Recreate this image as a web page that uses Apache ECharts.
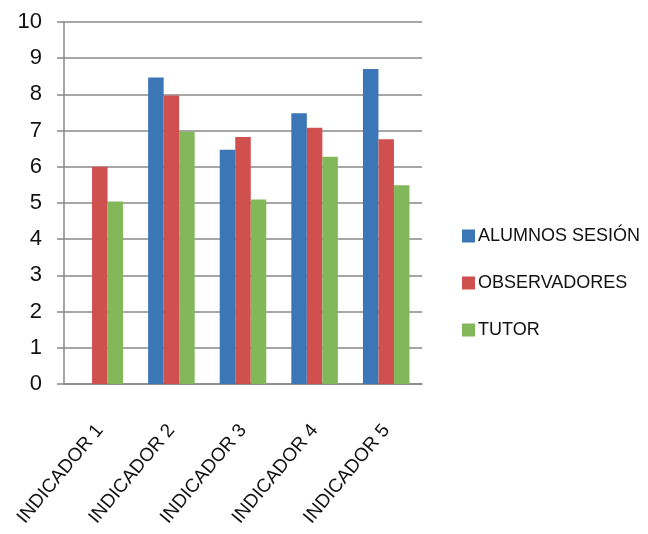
<!DOCTYPE html>
<html>
<head>
<meta charset="utf-8">
<script src="https://cdn.jsdelivr.net/npm/echarts@6/dist/echarts.min.js"></script>
<style>html,body{margin:0;padding:0;background:#fff}#c{width:648px;height:534px}</style>
</head>
<body>
<div id="c"></div>
<script>
const categories = ['INDICADOR 1', 'INDICADOR 2', 'INDICADOR 3', 'INDICADOR 4', 'INDICADOR 5'];
const alumnos = [0, 8.47, 6.47, 7.48, 8.7];
const observadores = [6.0, 7.97, 6.82, 7.08, 6.76];
const tutor = [5.04, 6.97, 5.1, 6.28, 5.49];
const seriesNames = ['ALUMNOS SESIÓN', 'OBSERVADORES', 'TUTOR'];

const chart = echarts.init(document.getElementById('c'));
const font = 'Liberation Sans, Arial, sans-serif';
chart.setOption({
  animation: false,
  color: ['#3b76b6', '#cf504e', '#82b75a'],
  grid: { left: 64, right: 226, top: 22, bottom: 150, containLabel: false },
  legend: {
    orient: 'vertical', left: 457, top: 222,
    itemWidth: 13, itemHeight: 13, itemGap: 29,
    icon: 'rect',
    textStyle: { fontFamily: font, fontSize: 18, color: '#111', lineHeight: 18, padding: [0,0,0,-2] },
    data: seriesNames
  },
  xAxis: {
    type: 'category', data: categories,
    axisLine: { lineStyle: { color: '#888', width: 1.5 } },
    axisTick: { length: 7, lineStyle: { color: '#888', width: 1.5 } },
    axisLabel: { rotate: 50, margin: 43, fontFamily: font, fontSize: 19, color: '#111', interval: 0 }
  },
  yAxis: {
    type: 'value', min: 0, max: 10, interval: 1,
    axisLine: { show: true, lineStyle: { color: '#888', width: 1.5 } },
    axisTick: { show: true, length: 7, lineStyle: { color: '#888', width: 1.5 } },
    splitLine: { lineStyle: { color: '#888', width: 1.5 } },
    axisLabel: { fontFamily: font, fontSize: 22, color: '#111', margin: 22 }
  },
  series: [
    { name: seriesNames[0], type: 'bar', data: alumnos, barGap: '0%', barCategoryGap: '35%' },
    { name: seriesNames[1], type: 'bar', data: observadores, barGap: '0%', barCategoryGap: '35%' },
    { name: seriesNames[2], type: 'bar', data: tutor, barGap: '0%', barCategoryGap: '35%' }
  ]
});
</script>
</body>
</html>
